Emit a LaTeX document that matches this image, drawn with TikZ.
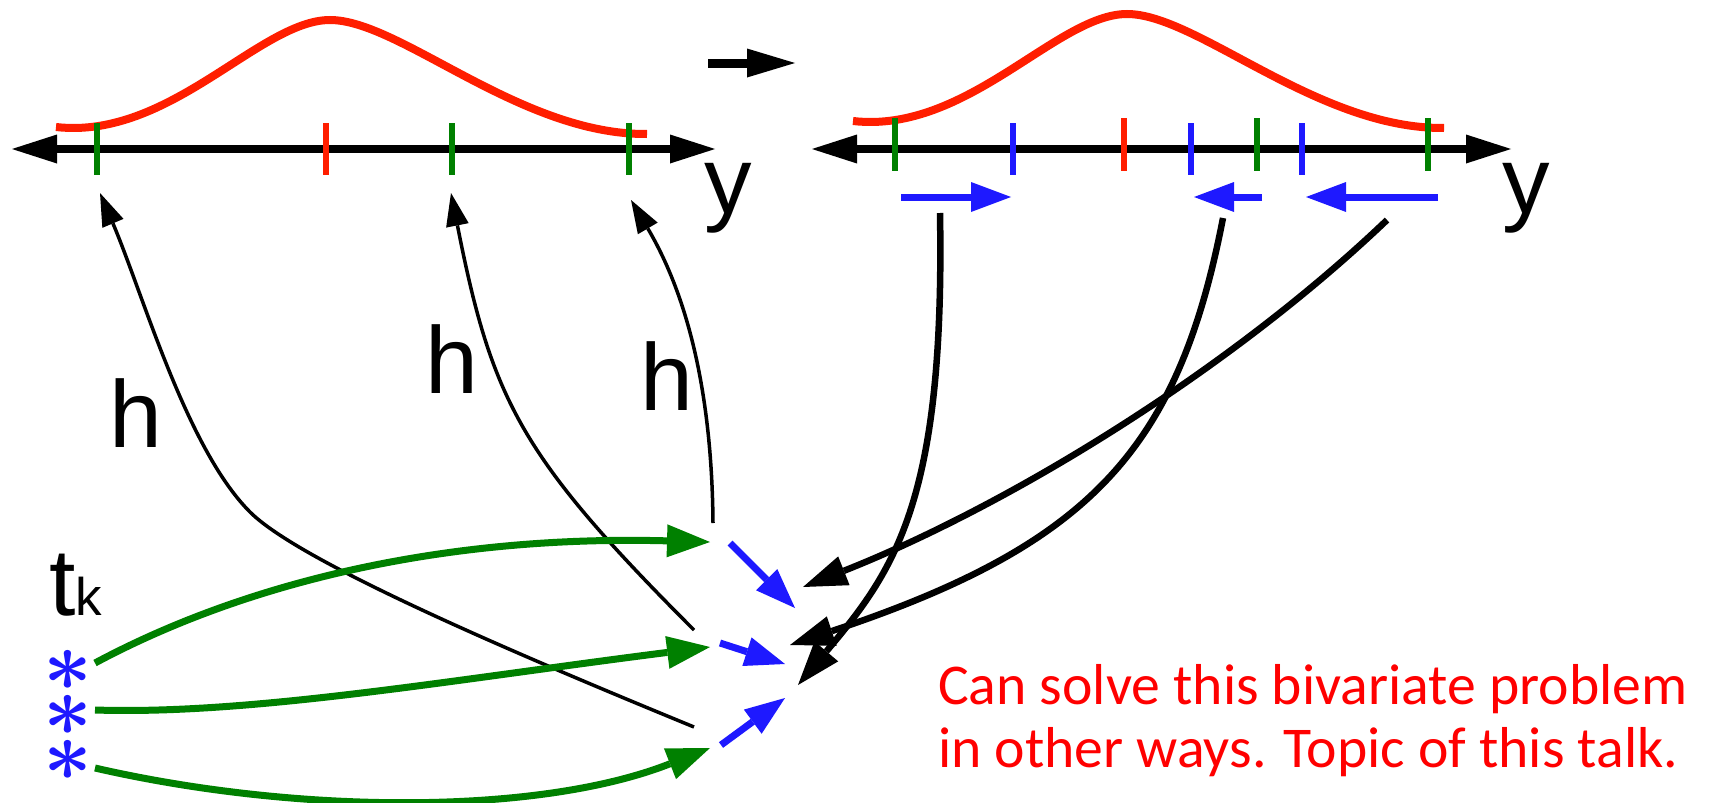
\documentclass[tikz,border=0pt]{standalone}
\usepackage{fontspec}
\usepackage{bm}
\setmainfont{Carlito}
\newfontfamily\hfont{Liberation Sans}
\usetikzlibrary{arrows.meta}
\definecolor{cred}{RGB}{255,30,0}
\definecolor{tred}{RGB}{255,0,0}
\definecolor{cgreen}{RGB}{0,128,0}
\definecolor{cblue}{RGB}{30,25,255}
\tikzset{
  axisline/.style={line width=8pt,{Triangle[length=45pt,width=29pt,line width=0pt]}-{Triangle[length=45pt,width=29pt,line width=0pt]}},
  gcurve/.style={cred,line width=8pt},
  tickmark/.style={line width=6pt},
  thickarrow/.style={line width=6.5pt,-{Triangle[length=44pt,width=31pt,line width=0pt]}},
  thinarrow/.style={line width=3.5pt,-{Triangle[length=33pt,width=23pt,line width=0pt]}},
  garrow/.style={cgreen,line width=7pt,-{Triangle[length=43pt,width=33pt,line width=0pt]}},
  barrow/.style={cblue,line width=7pt,-{Triangle[length=40pt,width=30pt,line width=0pt]}},
  lbl/.style={font=\hfont\fontsize{95}{95}\selectfont,inner sep=0pt,anchor=base west},
  redtext/.style={text=tred,font=\fontsize{57.7}{60}\selectfont,inner sep=0pt,anchor=base west},
  asterisk/.style={text=cblue,scale=8.5,inner sep=0pt}
}
\begin{document}
\begin{tikzpicture}[x=1pt,y=-1pt]
\useasboundingbox (0,0) rectangle (1711,803);

% ---------- left panel ----------
\coordinate (la1) at (12,149);
\coordinate (la2) at (715,149);
\draw[axisline] (la1) -- (la2);
\draw[gcurve] (56,127) .. controls (170,140) and (260,20) .. (330,20)
  .. controls (400,20) and (520,135) .. (647,134);
\draw[tickmark,cgreen] (97,123) -- (97,175);
\draw[tickmark,cred] (326,123) -- (326,175);
\draw[tickmark,cgreen] (452,123) -- (452,175);
\draw[tickmark,cgreen] (629,123) -- (629,175);
\node[lbl] (yl) at (704,213) {y};

% ---------- top arrow ----------
\coordinate (ta1) at (708,63);
\coordinate (ta2) at (795,63);
\draw[line width=9pt,-{Triangle[length=48pt,width=29pt,line width=0pt]}] (ta1) -- (ta2);

% ---------- right panel ----------
\coordinate (ra1) at (812,149);
\coordinate (ra2) at (1511,149);
\draw[axisline] (ra1) -- (ra2);
\begin{scope}[shift={(797,-6)}]
\draw[gcurve] (56,127) .. controls (170,140) and (260,20) .. (330,20)
  .. controls (400,20) and (520,135) .. (647,134);
\end{scope}
\draw[tickmark,cgreen] (895,118) -- (895,171);
\draw[tickmark,cblue] (1013,123) -- (1013,175);
\draw[tickmark,cred] (1124,118) -- (1124,171);
\draw[tickmark,cblue] (1191,123) -- (1191,175);
\draw[tickmark,cgreen] (1257,118) -- (1257,171);
\draw[tickmark,cblue] (1302,123) -- (1302,175);
\draw[tickmark,cgreen] (1428,118) -- (1428,171);
\node[lbl] (yr) at (1502,213) {y};

% blue shift arrows under right axis
\coordinate (s1a) at (901,197); \coordinate (s1b) at (1011,197);
\coordinate (s2a) at (1262,197); \coordinate (s2b) at (1194,197);
\coordinate (s3a) at (1438,197); \coordinate (s3b) at (1306,197);
\draw[barrow] (s1a) -- (s1b);
\draw[barrow] (s2a) -- (s2b);
\draw[barrow] (s3a) -- (s3b);

% ---------- labels ----------
\node[lbl] (h1) at (109,447) {h};
\node[lbl] (h2) at (425,393) {h};
\node[lbl] (h3) at (640,410) {h};
\node[lbl] (tk) at (49,615) {t{\fontsize{53}{53}\selectfont k}};

\node[asterisk] (st1) at (68,670) {$\bm{\ast}$};
\node[asterisk] (st2) at (68,715) {$\bm{\ast}$};
\node[asterisk] (st3) at (68,760) {$\bm{\ast}$};

% ---------- thin h arrows ----------
\coordinate (l1s) at (694,727); \coordinate (l1e) at (100,193);
\coordinate (l2s) at (694,630); \coordinate (l2e) at (451,193);
\coordinate (l3s) at (713,523); \coordinate (l3e) at (631,200);
\draw[thinarrow] (l1s) .. controls (509,651) and (299.5,561.5) .. (250,512) .. controls (186.4,448.4) and (143,294) .. (l1e);
\draw[thinarrow] (l2s) .. controls (520,456) and (492,400) .. (l2e);
\draw[thinarrow] (l3s) .. controls (712,400) and (690,300) .. (l3e);

% ---------- green arrows ----------
\coordinate (g1s) at (95,663); \coordinate (g1e) at (710,542);
\coordinate (g2s) at (95,710); \coordinate (g2e) at (710,647);
\coordinate (g3s) at (95,768); \coordinate (g3e) at (710,748);
\draw[garrow] (g1s) .. controls (250,580) and (450,535) .. (g1e);
\draw[garrow] (g2s) .. controls (250,715) and (450,680) .. (g2e);
\draw[garrow] (g3s) .. controls (300,815) and (540,815) .. (g3e);

% ---------- blue centre arrows ----------
\coordinate (b1s) at (730,543); \coordinate (b1e) at (795,608);
\coordinate (b2s) at (720,643); \coordinate (b2e) at (785,664);
\coordinate (b3s) at (721,745); \coordinate (b3e) at (785,698);
\draw[barrow] (b1s) -- (b1e);
\draw[barrow] (b2s) -- (b2e);
\draw[barrow] (b3s) -- (b3e);

% ---------- thick black arrows ----------
\coordinate (as) at (940,213); \coordinate (ae) at (798,685);
\coordinate (bs) at (1223,218); \coordinate (be) at (790,645);
\coordinate (cs) at (1387,220); \coordinate (ce) at (803,587);
\draw[thickarrow] (as) .. controls (945,500) and (895,570) .. (ae);
\draw[thickarrow] (bs) .. controls (1178,450) and (1090,545) .. (be);
\draw[thickarrow] (cs) .. controls (1230,370) and (1010,505) .. (ce);

% ---------- red text ----------
\node[redtext] (t1) at (938,704) {Can solve this bivariate problem};
\node[redtext] (t2) at (938,767) {in other ways. Topic of this talk.};
\end{tikzpicture}
\end{document}
